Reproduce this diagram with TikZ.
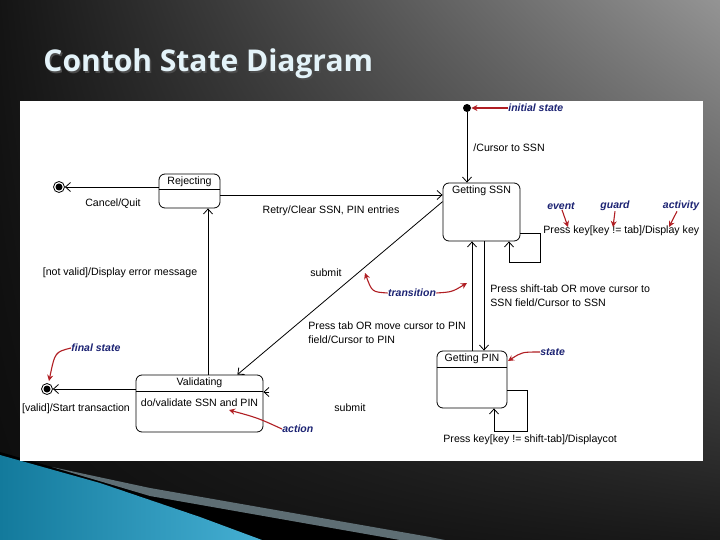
\documentclass[tikz,border=0pt]{standalone}
\usepackage{fontspec}
\setmainfont{Liberation Sans}
\newfontfamily\titlefont{Open Sans}
\usetikzlibrary{arrows.meta,calc,shadings}
\definecolor{annred}{HTML}{B01E23}
\definecolor{annblue}{HTML}{1C2373}
\definecolor{swA}{HTML}{137A9C}
\definecolor{swB}{HTML}{45AFD3}
\definecolor{stripe}{HTML}{5E6E74}
\definecolor{titlec}{HTML}{E4F3F9}

\begin{document}
\begin{tikzpicture}[x=1pt,y=-1pt,line width=.8pt,
  state/.style={draw,rounded corners=6pt,inner sep=0pt},
  final/.style={circle,draw,inner sep=0pt,minimum size=11pt,
    path picture={\fill (path picture bounding box.center) circle (3.5pt);}},
  tr/.style={-{Straight Barb[length=5pt,width=9pt]}},
  txt/.style={font=\fontsize{10.6}{14}\selectfont,inner sep=0pt},
  note/.style={text=annblue,inner sep=0pt,font=\fontsize{10.5}{12}\selectfont\bfseries\itshape},
  ann/.style={annred,line width=1.1pt,-{Stealth[length=6pt,width=6pt]}}]
\useasboundingbox (0,0) rectangle (720,540);
% slide background
\shade[upper left=black!92,upper right=black!42,lower left=black!95,lower right=black!90] (0,0) rectangle (720,540);
\fill[black] (0,452)--(52,467)--(150,496)--(400,540)--(0,540)--cycle;
\fill[stripe] (52,467)--(150,488)--(430,537)--(445,540)--(400,540)--(150,496)--cycle;
\shade[left color=swA,right color=swB] (0,455)--(100,483)--(200,517)--(262,540)--(0,540)--cycle;
\node[black!70,anchor=west,inner sep=0pt,font=\titlefont\bfseries\fontsize{30}{34}\selectfont] (titleS) at (44.5,65.5) {Contoh State Diagram};
\node[titlec,anchor=west,inner sep=0pt,font=\titlefont\bfseries\fontsize{30}{34}\selectfont] (title) at (43,64) {Contoh State Diagram};
\fill[white] (20,101) rectangle (703,461);

% states
\node[circle,fill,inner sep=0pt,minimum size=8pt] (init) at (467,108) {};
\node[state,minimum width=77pt,minimum height=58pt] (ssn) at (481.5,212) {};
\node[state,minimum width=61pt,minimum height=34pt] (rej) at (189.5,191) {};
\node[state,minimum width=127pt,minimum height=57pt] (val) at (199.5,403.5) {};
\node[state,minimum width=70pt,minimum height=57pt] (pin) at (472,379.5) {};
\node[final] (fin1) at (59,187) {};
\node[final] (fin2) at (47,389) {};

\node[txt,anchor=north] (ssnT) at ([yshift=-3pt]ssn.north) {Getting SSN};
\node[txt,anchor=north] (rejT) at ([yshift=-3pt]rej.north) {Rejecting};
\node[txt,anchor=north] (valT) at ([yshift=-3pt]val.north) {Validating};
\node[txt,anchor=north] (pinT) at ([yshift=-3pt]pin.north) {Getting PIN};
\node[txt] (valD) at (199.5,403) {do/validate SSN and PIN};
\draw ([yshift=-16pt]rej.north west)--([yshift=-16pt]rej.north east);
\draw ([yshift=-17pt]val.north west)--([yshift=-17pt]val.north east);
\draw ([yshift=-17pt]pin.north west)--([yshift=-17pt]pin.north east);

% transitions
\coordinate (rj) at ([xshift=18.5pt]rej.south);
\draw[tr] (init)--(init |- ssn.north);
\draw[tr] (rej.west |- fin1)--(fin1);
\draw[tr] ([yshift=-4pt]rej.east)--([yshift=-4pt]rej.east -| ssn.west);
\draw[tr] ([yshift=-19pt]ssn.north west)--([xshift=-26pt]val.north east);
\draw[tr] (rj |- val.north)--(rj);
\draw[tr] (val.west |- fin2)--(fin2);
\draw[tr] ([xshift=6pt,yshift=11.5pt]val.east)--([yshift=11.5pt]val.east);
\draw[tr] (pin.north)--(pin.north |- ssn.south);
\draw[tr] ([xshift=12pt]pin.north |- ssn.south)--([xshift=12pt]pin.north);
\draw[tr] ([yshift=-21pt]ssn.east) -| ++(20,29) -| ([xshift=27.5pt]ssn.south);
\draw[tr] ([yshift=-10.5pt]pin.east) -| ++(20,41) -| ([xshift=22pt]pin.south);

% labels
\node[txt,anchor=west] (l1) at (473,148) {/Cursor to SSN};
\node[txt] (l2) at (113,204) {Cancel/Quit};
\node[txt] (l3) at (331,211) {Retry/Clear SSN, PIN entries};
\node[txt] (l4) at (120,273) {[not valid]/Display error message};
\node[txt] (l5) at (326,273) {submit};
\node[txt,anchor=west,align=left] (l6) at (308,333) {Press tab OR move cursor to PIN\\field/Cursor to PIN};
\node[txt,anchor=west,align=left] (l7) at (490,296) {Press shift-tab OR move cursor to\\SSN field/Cursor to SSN};
\node[txt,anchor=west] (l8) at (543,231) {Press key[key != tab]/Display key};
\node[txt] (l9) at (350,408) {submit};
\node[txt] (l10) at (76,409) {[valid]/Start transaction};
\node[txt,anchor=west] (l11) at (443,440) {Press key[key != shift-tab]/Displaycot};

% notes
\node[note,anchor=west] (nInit) at (508,108) {initial state};
\node[note] (nEv) at (561,206) {event};
\node[note] (nGu) at (615,206) {guard};
\node[note] (nAc) at (681,206) {activity};
\node[note] (nTr) at (412,293) {transition};
\node[note,anchor=west] (nFin) at (71,348) {final state};
\node[note,anchor=west] (nSt) at (540,352) {state};
\node[note,anchor=west] (nAct) at (282,429) {action};
\coordinate (tEv) at (568,227);
\coordinate (tGu) at (613,227);
\coordinate (tAc) at (669,227);
\coordinate (tTr1) at (365,273);
\coordinate (tTr2) at (467,283);
\coordinate (tFin) at (49,381);
\coordinate (tSt) at (508,361);
\coordinate (tAct) at (229,410);
\draw[ann] (nInit.west)--(init.east);
\draw[ann] ([xshift=1pt]nEv.south)--(tEv);
\draw[ann] (nGu.south)--(tGu);
\draw[ann] ([xshift=-4pt]nAc.south)--(tAc);
\draw[ann] (nTr.west) .. controls (372,292) .. (tTr1);
\draw[ann] (nTr.east) .. controls (452,292) .. (tTr2);
\draw[ann] (nFin.west) .. controls (55,352) .. (tFin);
\draw[ann] (nSt.west) .. controls (522,352) .. (tSt);
\draw[ann] (nAct.west) .. controls (258,418) .. (tAct);
\end{tikzpicture}
\end{document}
